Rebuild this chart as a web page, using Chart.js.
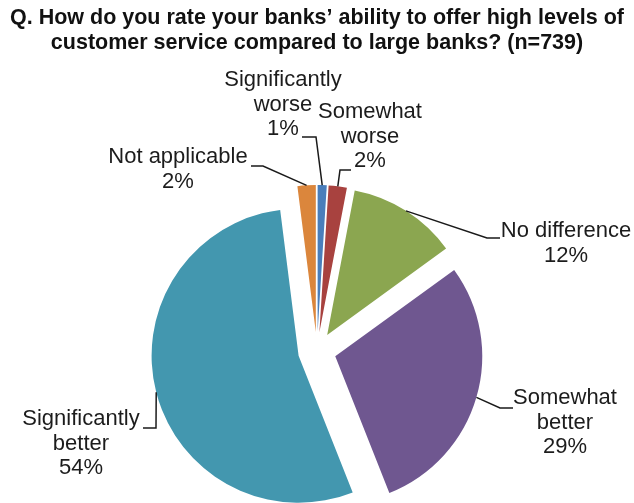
<!DOCTYPE html>
<html>
<head>
<meta charset="utf-8">
<script src="https://cdn.jsdelivr.net/npm/chart.js@4/dist/chart.umd.min.js"></script>
<style>
  html, body { margin: 0; padding: 0; background: #ffffff; }
  #wrap { width: 634px; height: 503px; }
</style>
</head>
<body>
<div id="wrap"><canvas id="chart" width="634" height="503"></canvas></div>
<script>
// Survey answers, clockwise from 12 o'clock
const categories = [
  'Significantly worse',
  'Somewhat worse',
  'No difference',
  'Somewhat better',
  'Significantly better',
  'Not applicable'
];
// Share of respondents, percent (n=739)
const shares = [1, 2, 12, 29, 54, 2];
// How each category name is broken over lines in its data label
const labelLines = [
  ['Significantly', 'worse'],
  ['Somewhat', 'worse'],
  ['No difference'],
  ['Somewhat', 'better'],
  ['Significantly', 'better'],
  ['Not applicable']
];
const sliceColors = ['#4A7EBB', '#A8423F', '#8BA650', '#6F5790', '#4397AF', '#DB863C'];

const TITLE_LINES = [
  'Q. How do you rate your banks\u2019 ability to offer high levels of',
  'customer service compared to large banks? (n=739)'
];

// Every slice is pulled out from the centre by the same distance (px)
const EXPLODE = 19;
const PIE_RADIUS = 147;

// Label placement: centre of first text line, plus leader elbow and end
const labelLayout = [
  { x: 283, y: 80,  elbow: [316, 137], end: [302, 137] },
  { x: 370, y: 112, elbow: [340, 170], end: [351, 170] },
  { x: 566, y: 231, elbow: [487, 238], end: [500, 238] },
  { x: 565, y: 398, elbow: [500, 408], end: [513, 408] },
  { x: 81,  y: 419, elbow: [156, 428], end: [143, 428] },
  { x: 178, y: 157, elbow: [263, 166], end: [251, 166] }
];
const LABEL_FONT = '22px "Liberation Sans", Arial, sans-serif';
const LABEL_LINE_HEIGHT = 24.5;
const LABEL_COLOR = '#1c1c1c';

// Pull each arc straight out along its bisector, keeping its radius and angles
const explodeSlices = {
  id: 'explodeSlices',
  beforeDatasetsDraw(chart) {
    chart.getDatasetMeta(0).data.forEach(arc => {
      if (arc.$exploded) return;
      const baseDraw = arc.draw.bind(arc);
      arc.draw = function (ctx, area) {
        const mid = (this.startAngle + this.endAngle) / 2;
        ctx.save();
        ctx.translate(Math.cos(mid) * EXPLODE, Math.sin(mid) * EXPLODE);
        baseDraw(ctx, area);
        ctx.restore();
      };
      arc.$exploded = true;
    });
  }
};

// Data labels with elbowed leader lines from each slice's outer edge
const leaderLabels = {
  id: 'leaderLabels',
  afterDatasetsDraw(chart) {
    const meta = chart.getDatasetMeta(0);
    const ctx = chart.ctx;
    ctx.save();
    meta.data.forEach((arc, i) => {
      const p = arc.getProps(['x', 'y', 'startAngle', 'endAngle', 'outerRadius'], true);
      const mid = (p.startAngle + p.endAngle) / 2;
      const reach = EXPLODE + p.outerRadius;
      const ax = p.x + Math.cos(mid) * reach;
      const ay = p.y + Math.sin(mid) * reach;
      const lay = labelLayout[i];

      ctx.beginPath();
      ctx.moveTo(ax, ay);
      ctx.lineTo(lay.elbow[0], lay.elbow[1]);
      ctx.lineTo(lay.end[0], lay.end[1]);
      ctx.strokeStyle = '#1a1a1a';
      ctx.lineWidth = 1.5;
      ctx.stroke();

      const lines = labelLines[i].concat([shares[i] + '%']);
      ctx.font = LABEL_FONT;
      ctx.fillStyle = LABEL_COLOR;
      ctx.textAlign = 'center';
      ctx.textBaseline = 'middle';
      lines.forEach((t, k) => ctx.fillText(t, lay.x, lay.y + k * LABEL_LINE_HEIGHT));
    });
    ctx.restore();
  }
};

new Chart(document.getElementById('chart'), {
  type: 'pie',
  data: {
    labels: categories,
    datasets: [{
      data: shares,
      backgroundColor: sliceColors,
      borderWidth: 0,
      radius: PIE_RADIUS,
      clip: false
    }]
  },
  options: {
    responsive: false,
    animation: false,
    layout: { padding: 0 },
    plugins: {
      legend: { display: false },
      tooltip: { enabled: false },
      title: {
        display: true,
        text: TITLE_LINES,
        color: '#111111',
        font: { family: '"Liberation Sans", Arial, sans-serif', size: 21.5, weight: 'bold', lineHeight: 25 / 21.5 },
        padding: { top: 5.5, bottom: 143.5 }
      }
    }
  },
  plugins: [explodeSlices, leaderLabels]
});
</script>
</body>
</html>
